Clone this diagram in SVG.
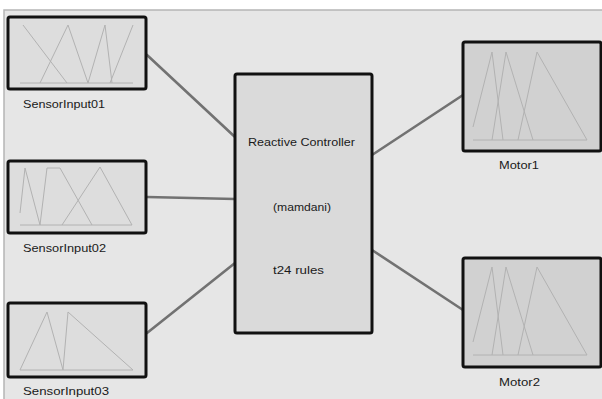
<svg xmlns="http://www.w3.org/2000/svg" width="602" height="399" viewBox="0 0 602 399">
  <style>
    .blk { stroke: #111; stroke-width: 3; }
    .in { fill: #dddddd; }
    .ctl { fill: #dadada; }
    .out { fill: #d1d1d1; }
    .mf { fill: none; stroke: #b2b2b2; stroke-width: 1; stroke-linejoin: round; }
    .wire { fill: none; stroke: #727272; stroke-width: 2.6; stroke-linecap: round; }
    .lbl { font-family: "Liberation Sans", Arial, sans-serif; font-size: 11px; fill: #1a1a1a; }
  </style>

  <!-- canvas -->
  <rect x="0" y="0" width="602" height="399" fill="#ffffff"/>
  <rect x="4" y="10" width="602" height="395" fill="#e6e6e6" stroke="#b5b5b5" stroke-width="1.5"/>

  <!-- connectors -->
  <g id="connectors">
    <line class="wire" x1="147" y1="55" x2="235" y2="137"/>
    <line class="wire" x1="147" y1="197" x2="235" y2="199"/>
    <line class="wire" x1="147" y1="333" x2="235" y2="263"/>
    <line class="wire" x1="372" y1="155" x2="463" y2="95"/>
    <line class="wire" x1="372" y1="250" x2="463" y2="310"/>
  </g>

  <!-- input 1 -->
  <g id="SensorInput01">
    <rect class="blk in" x="8" y="17" width="138" height="72" rx="2"/>
    <polyline class="mf" points="20,83 133,83"/>
    <polyline class="mf" points="23,25 67,83"/>
    <polyline class="mf" points="40,83 68,25 88,83"/>
    <polyline class="mf" points="88,83 105,25 112,83"/>
    <polyline class="mf" points="110,83 133,25"/>
    <text class="lbl" x="23" y="108" textLength="82" lengthAdjust="spacingAndGlyphs">SensorInput01</text>
  </g>

  <!-- input 2 -->
  <g id="SensorInput02">
    <rect class="blk in" x="8" y="161" width="138" height="72" rx="2"/>
    <polyline class="mf" points="20,225 132,225"/>
    <polyline class="mf" points="20,213 25,168 40,225"/>
    <polyline class="mf" points="40,225 47,168 60,168 92,225"/>
    <polyline class="mf" points="62,225 100,167 132,225"/>
    <text class="lbl" x="23" y="252" textLength="83" lengthAdjust="spacingAndGlyphs">SensorInput02</text>
  </g>

  <!-- input 3 -->
  <g id="SensorInput03">
    <rect class="blk in" x="8" y="303" width="138" height="74" rx="2"/>
    <polyline class="mf" points="20,370 47,312 63,370"/>
    <polyline class="mf" points="63,370 68,312 133,370"/>
    <polyline class="mf" points="20,370 133,370"/>
    <text class="lbl" x="23" y="395" textLength="86" lengthAdjust="spacingAndGlyphs">SensorInput03</text>
  </g>

  <!-- rule base -->
  <g id="ReactiveController">
    <rect class="blk ctl" x="235" y="74" width="137" height="259" rx="2"/>
    <text class="lbl" x="248" y="146" textLength="107" lengthAdjust="spacingAndGlyphs">Reactive Controller</text>
    <text class="lbl" x="273" y="211" textLength="58" lengthAdjust="spacingAndGlyphs">(mamdani)</text>
    <text class="lbl" x="273" y="274" textLength="51" lengthAdjust="spacingAndGlyphs">t24 rules</text>
  </g>

  <!-- output 1 -->
  <g id="Motor1">
    <rect class="blk out" x="463" y="42" width="138" height="109" rx="2"/>
    <polyline class="mf" points="473,140 587,140"/>
    <polyline class="mf" points="473,127 492,52 503,140"/>
    <polyline class="mf" points="492,140 506,52 533,140"/>
    <polyline class="mf" points="518,140 537,52 587,140"/>
    <text class="lbl" x="499" y="169" textLength="40" lengthAdjust="spacingAndGlyphs">Motor1</text>
  </g>

  <!-- output 2 -->
  <g id="Motor2">
    <rect class="blk out" x="463" y="258" width="138" height="109" rx="2"/>
    <polyline class="mf" points="473,355 587,355"/>
    <polyline class="mf" points="473,342 492,267 503,355"/>
    <polyline class="mf" points="492,355 506,267 533,355"/>
    <polyline class="mf" points="518,355 537,267 587,355"/>
    <text class="lbl" x="499" y="386" textLength="41" lengthAdjust="spacingAndGlyphs">Motor2</text>
  </g>
</svg>
